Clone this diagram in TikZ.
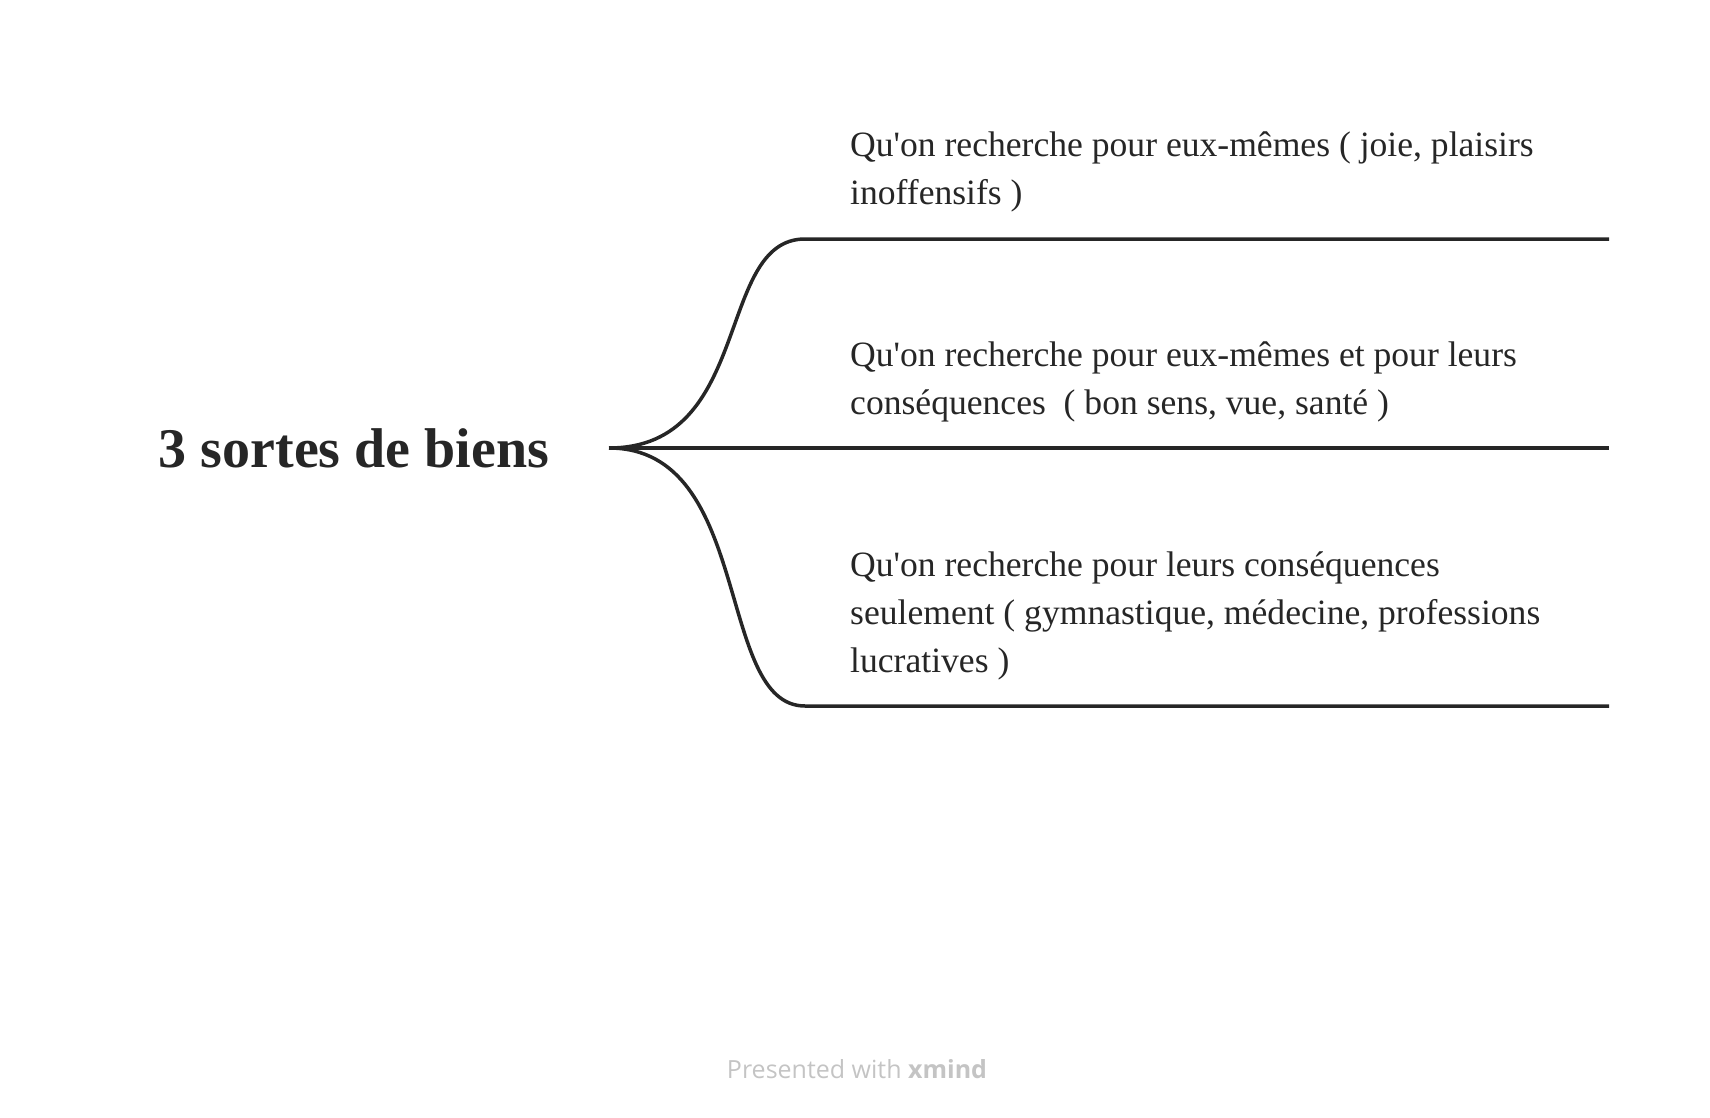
\documentclass[tikz,border=0pt]{standalone}
\usepackage{fontspec}
\setmainfont{Liberation Serif}[Ligatures=TeXOff]
\newfontfamily\footfont{Open Sans}
\usetikzlibrary{positioning}
\definecolor{inkgray}{HTML}{262626}
\definecolor{footgray}{HTML}{C4C4C4}

\begin{document}
\begin{tikzpicture}[
  x=1pt, y=-1pt,
  title/.style={font=\fontsize{56}{66}\selectfont\bfseries, text=inkgray, inner sep=0pt},
  topic/.style={font=\fontsize{35.6}{48}\selectfont, text=inkgray, align=left, anchor=south west, inner sep=0pt},
  branch/.style={draw=inkgray, line width=3.5pt},
  foot/.style={font=\footfont\fontsize{25}{30}\selectfont, text=footgray, inner sep=0pt}
]
\useasboundingbox (0,0) rectangle (1710,1118);
\node[title] (root) at (354,448) {3 sortes de biens};
\coordinate (fork) at (609,448);
\coordinate (e1) at (805,239);
\coordinate (e2) at (805,448);
\coordinate (e3) at (805,706);
\coordinate (f1) at (1609,239);
\coordinate (f2) at (1609,448);
\coordinate (f3) at (1609,706);
\node[topic] (t1) at (850,212) {Qu'on recherche pour eux-mêmes ( joie, plaisirs\\inoffensifs )};
\node[topic] (t2) at (850,422) {Qu'on recherche pour eux-mêmes et pour leurs\\conséquences \ ( bon sens, vue, santé )};
\node[topic] (t3) at (850,680) {Qu'on recherche pour leurs conséquences\\seulement ( gymnastique, médecine, professions\\lucratives )};
\draw[branch] (fork) .. controls +(145,0) and +(-90,0) .. (e1) -- (f1);
\draw[branch] (fork) -- (e2) -- (f2);
\draw[branch] (fork) .. controls +(145,0) and +(-90,0) .. (e3) -- (f3);
\node[foot] (credit) at (857,1069) {Presented with \textbf{xmind}};
\end{tikzpicture}
\end{document}
